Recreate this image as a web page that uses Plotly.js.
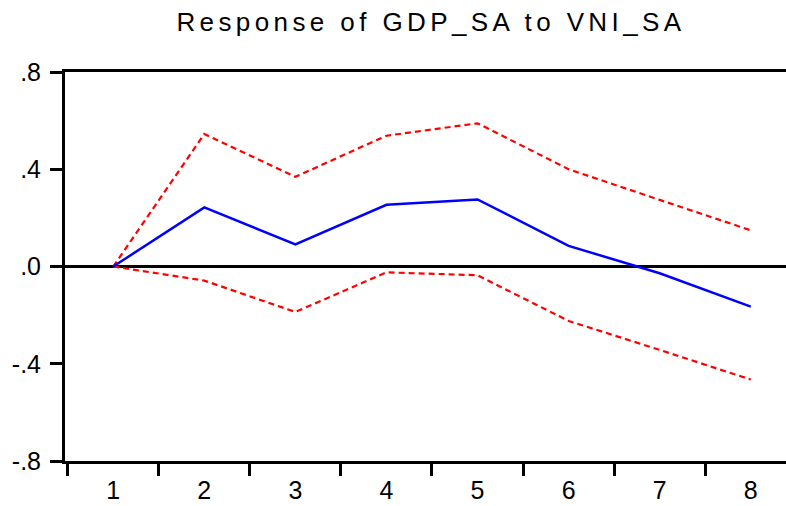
<!DOCTYPE html>
<html>
<head>
<meta charset="utf-8">
<script src="https://cdn.plot.ly/plotly-3.0.1.min.js"></script>
<style>
  html, body { margin: 0; padding: 0; background: #ffffff; }
  #chart { width: 786px; height: 506px; }
  .gtitle { letter-spacing: 4.4px; }
</style>
</head>
<body>
<div id="chart"></div>
<script>
// Periods (categories)
const periods = ["1", "2", "3", "4", "5", "6", "7", "8"];
// Impulse response of GDP_SA to VNI_SA
const response = [0.0, 0.243, 0.091, 0.254, 0.276, 0.085, -0.028, -0.165];
// Upper and lower confidence bands (±2 S.E.)
const upperBand = [0.0, 0.545, 0.369, 0.538, 0.589, 0.400, 0.274, 0.149];
const lowerBand = [0.0, -0.058, -0.187, -0.024, -0.036, -0.224, -0.343, -0.465];
// Y tick values and labels
const yTickVals = [0.8, 0.4, 0.0, -0.4, -0.8];
const yTickText = [".8", ".4", ".0", "-.4", "-.8"];

const FONT = "'Liberation Sans', Arial, sans-serif";

const traces = [
  {
    x: periods, y: upperBand, type: "scatter", mode: "lines",
    line: { color: "#ff0000", width: 2.2, dash: "6px,4px" }, hoverinfo: "skip"
  },
  {
    x: periods, y: lowerBand, type: "scatter", mode: "lines",
    line: { color: "#ff0000", width: 2.2, dash: "6px,4px" }, hoverinfo: "skip"
  },
  {
    x: periods, y: response, type: "scatter", mode: "lines",
    line: { color: "#0000ff", width: 2.5 }, hoverinfo: "skip"
  }
];

const layout = {
  width: 786, height: 506,
  margin: { l: 65, r: 0, t: 72, b: 45, pad: 0 },
  paper_bgcolor: "#ffffff", plot_bgcolor: "#ffffff",
  showlegend: false,
  font: { family: FONT, size: 25, color: "#000000" },
  title: {
    text: "Response of GDP_SA to VNI_SA",
    font: { family: FONT, size: 26, color: "#000000" },
    xref: "paper", x: 0.5076, xanchor: "center",
    yref: "container", y: 0.957, yanchor: "middle"
  },
  xaxis: {
    type: "category",
    categoryorder: "array", categoryarray: periods,
    range: [-0.5296, 7.387],
    tickson: "boundaries",
    ticks: "outside", ticklen: 12, tickwidth: 3, tickcolor: "#000000",
    showline: true, linecolor: "#000000", linewidth: 3, mirror: true,
    showgrid: false, zeroline: false,
    ticklabelstandoff: 5,
    tickfont: { family: FONT, size: 25, color: "#000000" },
    fixedrange: true
  },
  yaxis: {
    range: [-0.8, 0.8],
    tickmode: "array", tickvals: yTickVals, ticktext: yTickText,
    ticks: "outside", ticklen: 12, tickwidth: 3, tickcolor: "#000000",
    showline: true, linecolor: "#000000", linewidth: 3, mirror: false,
    showgrid: false,
    zeroline: true, zerolinecolor: "#000000", zerolinewidth: 3,
    ticklabelstandoff: 4,
    tickfont: { family: FONT, size: 25, color: "#000000" },
    fixedrange: true
  }
};

Plotly.newPlot("chart", traces, layout, { staticPlot: true, displayModeBar: false });
</script>
</body>
</html>
